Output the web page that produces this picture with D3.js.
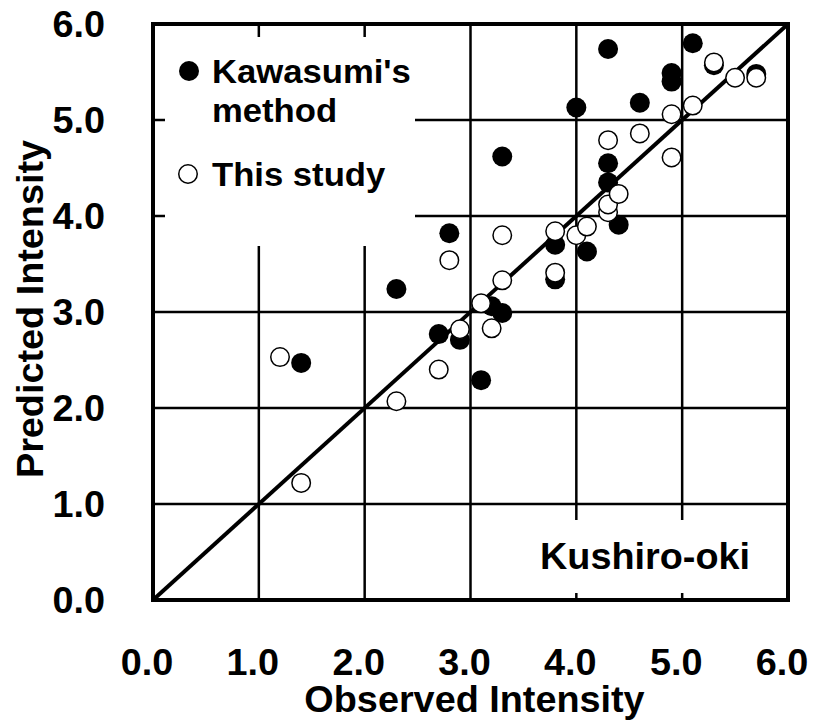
<!DOCTYPE html>
<html>
<head>
<meta charset="utf-8">
<script src="https://cdn.jsdelivr.net/npm/d3@7"></script>
<style>
  body { margin: 0; background: #fff; }
  text { font-family: "Liberation Sans", Arial, sans-serif; font-weight: bold; fill: #000; }
</style>
</head>
<body>
<svg id="chart" width="814" height="725"></svg>
<script>
// Kawasumi's method: observed vs predicted intensity
const kawasumiObs  = [1.4, 2.3, 2.7, 2.8, 2.9, 3.1, 3.2, 3.3, 3.3, 3.8, 3.8, 4.0, 4.1, 4.3, 4.3, 4.3, 4.4, 4.6, 4.9, 4.9, 5.1, 5.3, 5.7];
const kawasumiPred = [2.47, 3.24, 2.77, 3.82, 2.71, 2.29, 3.06, 2.99, 4.62, 3.34, 3.70, 5.13, 3.63, 4.35, 4.55, 5.74, 3.91, 5.18, 5.40, 5.49, 5.80, 5.57, 5.48];

// This study: observed vs predicted intensity
const studyObs  = [1.2, 1.4, 2.3, 2.7, 2.8, 2.9, 3.1, 3.2, 3.3, 3.3, 3.8, 3.8, 4.0, 4.1, 4.3, 4.3, 4.3, 4.4, 4.6, 4.9, 4.9, 5.1, 5.3, 5.5, 5.7];
const studyPred = [2.53, 1.22, 2.07, 2.40, 3.54, 2.82, 3.09, 2.83, 3.33, 3.80, 3.41, 3.84, 3.80, 3.89, 4.04, 4.12, 4.79, 4.23, 4.86, 4.61, 5.06, 5.15, 5.60, 5.44, 5.44];

const tickValues = [0, 1, 2, 3, 4, 5, 6];
const tickLabels = ["0.0", "1.0", "2.0", "3.0", "4.0", "5.0", "6.0"];
const xTitle = "Observed Intensity";
const yTitle = "Predicted Intensity";
const legendLabels = [["Kawasumi's", "method"], ["This study"]];
const eventName = "Kushiro-oki";

const svg = d3.select("#chart");
const x = d3.scaleLinear().domain([0, 6]).range([153, 788]);
const y = d3.scaleLinear().domain([0, 6]).range([600, 24]);
const sx = 1.05; // slight horizontal widening of the lettering

function label(g, tx, ty, str, size, anchor, rot) {
  return g.append("text")
    .attr("transform", `translate(${tx},${ty})` + (rot ? ` rotate(${rot})` : "") + ` scale(${sx},1)`)
    .attr("font-size", size)
    .attr("text-anchor", anchor)
    .text(str);
}

// grid
const grid = svg.append("g").attr("stroke", "#000").attr("stroke-width", 2.5);
grid.selectAll("line.v").data(tickValues.slice(1, -1)).join("line")
  .attr("x1", d => x(d)).attr("x2", d => x(d)).attr("y1", y(0)).attr("y2", y(6));
grid.selectAll("line.h").data(tickValues.slice(1, -1)).join("line")
  .attr("y1", d => y(d)).attr("y2", d => y(d)).attr("x1", x(0)).attr("x2", x(6));

// 1:1 line
svg.append("line")
  .attr("x1", x(0)).attr("y1", y(0)).attr("x2", x(6)).attr("y2", y(6))
  .attr("stroke", "#000").attr("stroke-width", 4);

// markers: Kawasumi filled, this study open on top
const r = 10;
svg.append("g").selectAll("circle").data(kawasumiObs).join("circle")
  .attr("cx", (d, i) => x(d)).attr("cy", (d, i) => y(kawasumiPred[i]))
  .attr("r", r).attr("fill", "#000");
svg.append("g").selectAll("circle").data(studyObs).join("circle")
  .attr("cx", (d, i) => x(d)).attr("cy", (d, i) => y(studyPred[i]))
  .attr("r", r - 0.75).attr("fill", "#fff").attr("stroke", "#000").attr("stroke-width", 1.5);

// legend box
svg.append("rect").attr("x", 165).attr("y", 37).attr("width", 250).attr("height", 209).attr("fill", "#fff");
const leg = svg.append("g");
leg.append("circle").attr("cx", 189).attr("cy", 71).attr("r", r).attr("fill", "#000");
leg.append("circle").attr("cx", 188).attr("cy", 174).attr("r", r - 0.75)
  .attr("fill", "#fff").attr("stroke", "#000").attr("stroke-width", 1.5);
label(leg, 212, 83, legendLabels[0][0], 33, "start");
label(leg, 212, 122, legendLabels[0][1], 33, "start");
label(leg, 212, 186, legendLabels[1][0], 33, "start");

// event label box
svg.append("rect").attr("x", 500).attr("y", 520).attr("width", 286).attr("height", 73).attr("fill", "#fff");
label(svg, 750, 569, eventName, 36, "end");

// frame
svg.append("rect").attr("x", x(0)).attr("y", y(6)).attr("width", x(6) - x(0)).attr("height", y(0) - y(6))
  .attr("fill", "none").attr("stroke", "#000").attr("stroke-width", 4);

// tick labels
const xl = svg.append("g");
tickValues.forEach((v, i) => label(xl, x(v) - 6, 675, tickLabels[i], 36, "middle"));
const yl = svg.append("g");
tickValues.forEach((v, i) => label(yl, 105, y(v) + 13, tickLabels[i], 36, "end"));

// axis titles
label(svg, (x(0) + x(6)) / 2 + 4, 712, xTitle, 36, "middle");
label(svg, 43, 309, yTitle, 36, "middle", -90);
</script>
</body>
</html>
